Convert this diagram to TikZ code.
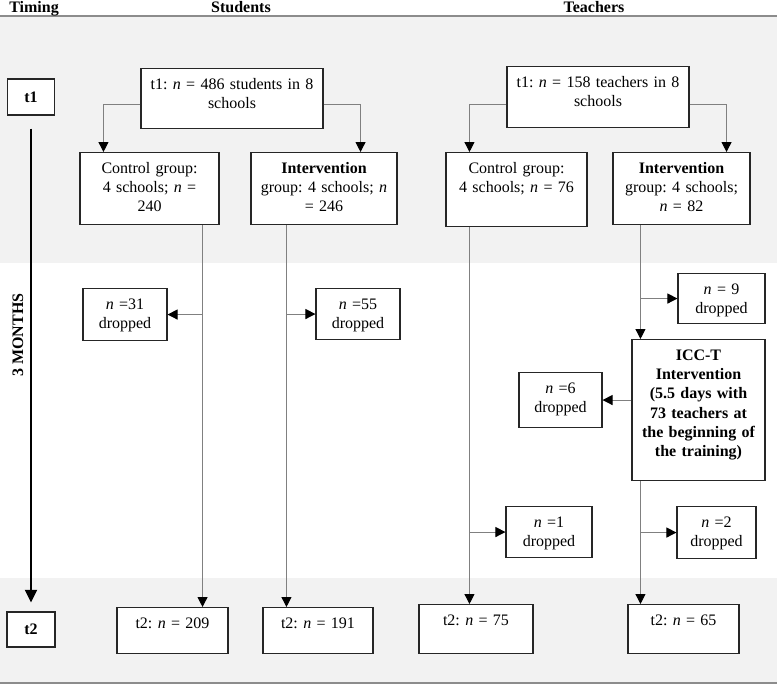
\documentclass[tikz,border=0pt,12pt]{standalone}
\usepackage{fontspec}
\setmainfont{Liberation Serif}
\usetikzlibrary{arrows.meta,calc}
\frenchspacing

\tikzstyle{flowbox} = [draw=black!85, line width=0.8pt, fill=white,
    rectangle, anchor=north, align=center, inner sep=0pt, text height=15.5pt]
\tikzstyle{timebox} = [draw=black!85, line width=0.8pt, fill=white,
    rectangle, font=\bfseries, minimum height=27pt]
\tikzstyle{flowline} = [draw=black!50, line width=0.75pt,
    -{Triangle[black, length=7.5pt, width=7.5pt]}]
\tikzstyle{band} = [fill=black!5, draw=none]
\tikzstyle{heading} = [font=\bfseries, anchor=base]

\begin{document}
\begin{tikzpicture}[x=0.75pt, y=-0.75pt]
\useasboundingbox (0,0) rectangle (777,686);
%------------ Hintergrund und Linien ---------------------
\fill[band] (0,16) rectangle (777,263);
\fill[band] (0,578) rectangle (777,683);
\draw[black!45, line width=1.5pt] (0,16) -- (777,16);
\draw[black!45, line width=1.5pt] (0,683) -- (777,683);

\node[heading] (timing) at (34,12) {Timing};
\node[heading] (students) at (241,12) {Students};
\node[heading] (teachers) at (594,12) {Teachers};

%------------ Zeitachse ---------------------
\node[timebox, minimum width=35.25pt] (t1) at (31,97) {t1};
\node[timebox, minimum width=36pt, minimum height=26.25pt] (t2) at (31,629.5) {t2};
\draw[black, line width=1.5pt, -{Triangle[length=9.5pt, width=9pt]}]
    ($(t1.south)+(0,13)$) -- ($(t2.north)+(0,-9)$);
\node[font=\bfseries, rotate=90] (months) at (18,335) {3 MONTHS};

%------------ Students ---------------------
\node[flowbox, text width=136.5pt, text depth=29.5pt] (sroot) at (232,68)
    {t1: \textit{n} = 486 students in 8\\schools};
\node[flowbox, text width=104.25pt, text depth=38.5pt] (sctrl) at (149.5,152)
    {Control group:\\4 schools; \textit{n} =\\240};
\node[flowbox, text width=109.5pt, text depth=38.5pt] (sint) at (324,152)
    {\textbf{Intervention}\\group: 4 schools; \textit{n}\\= 246};
\node[flowbox, text width=63pt, text depth=23.5pt] (sdrop1) at (125,288)
    {\textit{n} =31\\dropped};
\node[flowbox, text width=63pt, text depth=22.75pt] (sdrop2) at (358,288)
    {\textit{n} =55\\dropped};
\node[flowbox, text width=83.25pt, text depth=19pt] (send1) at (172.5,607)
    {t2: \textit{n} = 209};
\node[flowbox, text width=82.5pt, text depth=19pt] (send2) at (318,607)
    {t2: \textit{n} = 191};

\draw[flowline] ($(sroot.west)+(0,6)$) -| ($(sctrl.north west)+(24,0)$);
\draw[flowline] ($(sroot.east)+(0,6)$) -| ($(sint.north east)+(-37,0)$);
\coordinate (sa) at ($(sctrl.south east)+(-17,0)$);
\draw[flowline] (sa) -- (sa |- send1.north);
\draw[flowline] (sa |- sdrop1.east) -- (sdrop1.east);
\coordinate (sb) at ($(sint.south west)+(36,0)$);
\draw[flowline] (sb) -- (sb |- send2.north);
\draw[flowline] (sb |- sdrop2.west) -- (sdrop2.west);

%------------ Teachers ---------------------
\node[flowbox, text width=136.5pt, text depth=30.25pt] (troot) at (598,66)
    {t1: \textit{n} = 158 teachers in 8\\schools};
\node[flowbox, text width=105.75pt, text depth=40pt] (tctrl) at (516.5,152)
    {Control group:\\4 schools; \textit{n} = 76};
\node[flowbox, text width=102.75pt, text depth=38.5pt] (tint) at (681.5,152)
    {\textbf{Intervention}\\group: 4 schools;\\\textit{n} = 82};
\node[flowbox, text width=65.25pt, text depth=22pt] (tdrop9) at (721.5,273)
    {\textit{n} = 9\\dropped};
\node[flowbox, font=\bfseries, text width=99.75pt, text depth=90.25pt] (ticc) at (698.5,339)
    {ICC-T\\Intervention\\(5.5 days with\\73 teachers at\\the beginning of\\the training)};
\node[flowbox, text width=62.25pt, text depth=25.75pt] (tdrop6) at (560.5,372)
    {\textit{n} =6\\dropped};
\node[flowbox, text width=64.5pt, text depth=22.75pt] (tdrop1) at (549,506)
    {\textit{n} =1\\dropped};
\node[flowbox, text width=59.25pt, text depth=23.5pt] (tdrop2) at (716.5,506)
    {\textit{n} =2\\dropped};
\node[flowbox, text width=85.5pt, text depth=21.25pt] (tend1) at (476,604)
    {t2: \textit{n} = 75};
\node[flowbox, text width=83.25pt, text depth=21.25pt] (tend2) at (683.5,604)
    {t2: \textit{n} = 65};

\draw[flowline] ($(troot.west)+(0,7.5)$) -| ($(tctrl.north west)+(24,0)$);
\draw[flowline] ($(troot.east)+(0,7.5)$) -| ($(tint.north east)+(-24,0)$);
\coordinate (ta) at ($(tctrl.south west)+(24,0)$);
\draw[flowline] (ta) -- (ta |- tend1.north);
\draw[flowline] (ta |- tdrop1.west) -- (tdrop1.west);
\coordinate (tb) at ($(tint.south west)+(28,0)$);
\draw[flowline] (tb) -- (tb |- ticc.north);
\draw[flowline] (tb |- tdrop9.west) -- (tdrop9.west);
\coordinate (tc) at (tb |- ticc.south);
\draw[flowline] (tc) -- (tc |- tend2.north);
\draw[flowline] (tc |- tdrop2.west) -- (tdrop2.west);
\draw[flowline] (ticc.west |- tdrop6.east) -- (tdrop6.east);
\end{tikzpicture}
\end{document}
